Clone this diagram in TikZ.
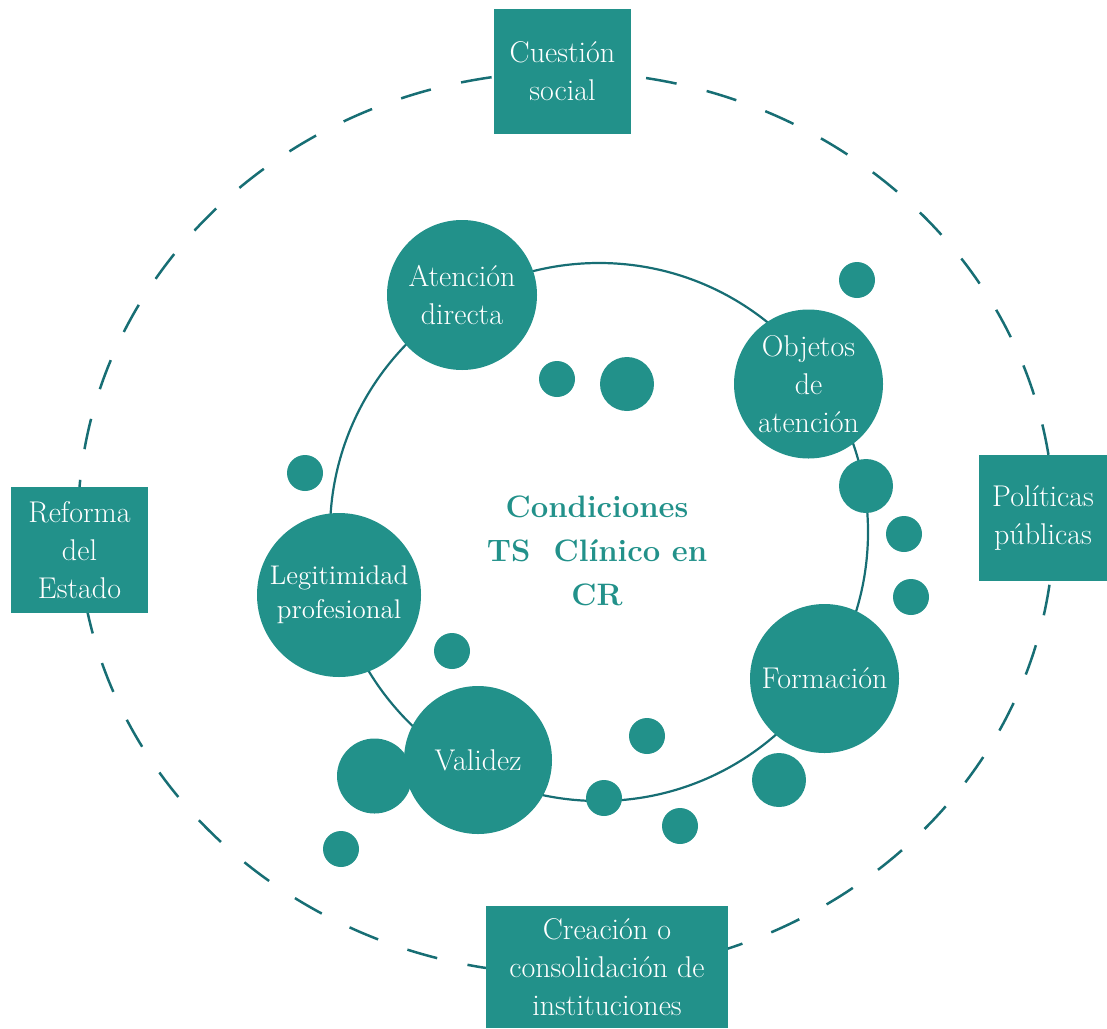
\documentclass[tikz,border=0pt]{standalone}
\usepackage{fontspec}
\usepackage{xcolor}
\usepackage{tikz}

\definecolor{verde}{HTML}{22918A}
\definecolor{linea}{HTML}{176E74}

\tikzset{
    caja/.style={fill=verde, text=white, align=center, inner sep=0pt, font=\fontsize{15}{19}\selectfont},
    burbuja/.style={circle, fill=verde, text=white, align=center, inner sep=0pt, font=\fontsize{15}{19}\selectfont},
    punto/.style={circle, fill=verde, inner sep=0pt},
}

\begin{document}
\begin{tikzpicture}[x=0.5pt, y=-0.5pt]
    \useasboundingbox (0, 0) rectangle (1107, 1028);
    % anillos
    \draw[linea, line width=1.25pt, dash pattern=on 15.5pt off 15.5pt] (566, 523) ellipse [x radius=488, y radius=451];
    \draw[linea, line width=1.1pt] (599, 532) circle [radius=269];
    % cajas de fuera
    \node[caja, minimum width=68.5pt, minimum height=62.5pt] at (562.5, 71.5) (cuestion) {Cuestión\\social};
    \node[caja, minimum width=68.5pt, minimum height=63pt] at (79.5, 550) (reforma) {Reforma\\del\\Estado};
    \node[caja, minimum width=64pt, minimum height=63pt] at (1043, 518) (politicas) {Políticas\\públicas};
    \node[caja, minimum width=121pt, minimum height=61pt] at (607, 967) (creacion) {Creación o\\consolidación de\\instituciones};
    % puntos
    \node[punto, minimum size=18pt] at (857, 280) (p1) {};
    \node[punto, minimum size=18pt] at (557, 379) (p2) {};
    \node[punto, minimum size=27pt] at (627, 384) (p3) {};
    \node[punto, minimum size=18pt] at (305, 473) (p4) {};
    \node[punto, minimum size=27pt] at (866, 486) (p5) {};
    \node[punto, minimum size=18pt] at (904, 534) (p6) {};
    \node[punto, minimum size=18pt] at (911, 597) (p7) {};
    \node[punto, minimum size=18pt] at (452, 651) (p8) {};
    \node[punto, minimum size=18pt] at (647, 736) (p9) {};
    \node[punto, minimum size=37.5pt] at (374.5, 776) (p10) {};
    \node[punto, minimum size=18pt] at (604, 798) (p11) {};
    \node[punto, minimum size=27pt] at (779, 780) (p12) {};
    \node[punto, minimum size=18pt] at (680, 826) (p13) {};
    \node[punto, minimum size=18pt] at (341, 849) (p14) {};
    % burbujas
    \node[burbuja, minimum size=75pt] at (462, 295) (atencion) {Atención\\directa};
    \node[burbuja, minimum size=74.5pt] at (808.5, 384) (objetos) {Objetos\\de\\atención};
    \node[burbuja, minimum size=82pt, font=\fontsize{13.5}{17}\selectfont] at (339, 595) (legitimidad) {Legitimidad\\profesional};
    \node[burbuja, minimum size=74pt] at (478, 760) (validez) {Validez};
    \node[burbuja, minimum size=74.5pt] at (824.5, 678.5) (formacion) {Formación};
    % centro
    \node[text=verde, align=center, font=\bfseries\fontsize{15.5}{22}\selectfont] at (597, 551) (centro) {Condiciones\\TS\ \ Clínico en\\CR};
\end{tikzpicture}
\end{document}
